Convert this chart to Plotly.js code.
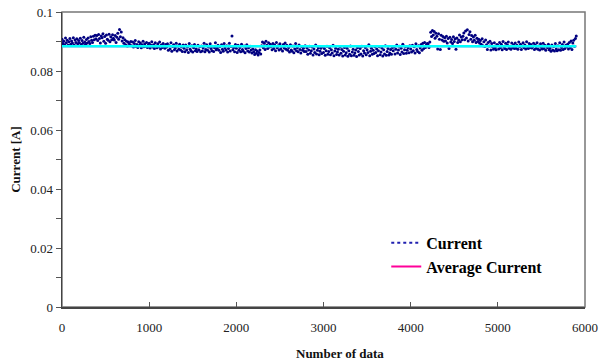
<!DOCTYPE html>
<html>
<head>
<meta charset="utf-8">
<script src="https://cdn.plot.ly/plotly-3.0.1.min.js"></script>
<style>html,body{margin:0;padding:0;background:#fff;}#chart{width:610px;height:363px;}</style>
</head>
<body>
<div id="chart"></div>
<script>
// Sample spacing along "Number of data"
const step = 10;
// Current readings [A] (one row = 200 data)
const currentValues = [
  0.0908,0.0893,0.0901,0.0889,0.0912,0.0896,0.0904,0.0887,0.0899,0.0910,0.0891,0.0902,0.0895,0.0913,0.0888,0.0905,0.0897,0.0909,0.0892,0.0903,
  0.0896,0.0911,0.0890,0.0903,0.0894,0.0914,0.0898,0.0891,0.0907,0.0895,0.0912,0.0900,0.0893,0.0916,0.0904,0.0897,0.0918,0.0906,0.0921,0.0909,
  0.0920,0.0903,0.0924,0.0910,0.0895,0.0919,0.0913,0.0926,0.0901,0.0917,0.0894,0.0922,0.0908,0.0904,0.0925,0.0899,0.0916,0.0906,0.0923,0.0911,
  0.0905,0.0920,0.0897,0.0914,0.0928,0.0908,0.0941,0.0916,0.0932,0.0902,0.0913,0.0894,0.0906,0.0889,0.0901,0.0885,0.0898,0.0893,0.0887,0.0900,
  0.0886,0.0898,0.0881,0.0893,0.0903,0.0883,0.0890,0.0880,0.0899,0.0887,0.0895,0.0879,0.0889,0.0901,0.0882,0.0892,0.0884,0.0897,0.0880,0.0888,
  0.0894,0.0878,0.0887,0.0899,0.0881,0.0889,0.0876,0.0896,0.0885,0.0879,0.0892,0.0882,0.0898,0.0875,0.0888,0.0880,0.0893,0.0883,0.0877,0.0890,
  0.0881,0.0892,0.0870,0.0886,0.0875,0.0896,0.0867,0.0883,0.0889,0.0872,0.0878,0.0894,0.0868,0.0885,0.0874,0.0891,0.0871,0.0882,0.0866,0.0888,
  0.0877,0.0865,0.0888,0.0871,0.0881,0.0863,0.0893,0.0874,0.0868,0.0886,0.0864,0.0879,0.0890,0.0869,0.0875,0.0866,0.0887,0.0872,0.0883,0.0865,
  0.0885,0.0868,0.0878,0.0894,0.0865,0.0873,0.0889,0.0870,0.0881,0.0864,0.0892,0.0876,0.0869,0.0884,0.0866,0.0879,0.0896,0.0872,0.0877,0.0887,
  0.0870,0.0882,0.0863,0.0889,0.0874,0.0867,0.0893,0.0878,0.0871,0.0886,0.0864,0.0876,0.0894,0.0868,0.0883,0.0919,0.0872,0.0880,0.0865,0.0890,
  0.0877,0.0863,0.0887,0.0870,0.0880,0.0865,0.0891,0.0873,0.0867,0.0885,0.0862,0.0876,0.0889,0.0868,0.0879,0.0864,0.0884,0.0871,0.0861,0.0875,
  0.0865,0.0856,0.0872,0.0860,0.0868,0.0854,0.0863,0.0871,0.0858,0.0886,0.0898,0.0879,0.0894,0.0873,0.0901,0.0887,0.0876,0.0896,0.0881,0.0891,
  0.0883,0.0872,0.0893,0.0876,0.0888,0.0869,0.0897,0.0879,0.0886,0.0871,0.0892,0.0875,0.0884,0.0868,0.0890,0.0878,0.0895,0.0874,0.0887,0.0870,
  0.0880,0.0864,0.0889,0.0871,0.0867,0.0885,0.0862,0.0875,0.0893,0.0869,0.0879,0.0865,0.0888,0.0873,0.0861,0.0883,0.0870,0.0877,0.0866,0.0886,
  0.0866,0.0878,0.0857,0.0871,0.0884,0.0860,0.0869,0.0881,0.0854,0.0875,0.0863,0.0888,0.0858,0.0870,0.0879,0.0855,0.0867,0.0877,0.0859,0.0883,
  0.0863,0.0876,0.0853,0.0869,0.0884,0.0857,0.0866,0.0879,0.0855,0.0872,0.0861,0.0887,0.0852,0.0868,0.0877,0.0856,0.0864,0.0874,0.0854,0.0881,
  0.0860,0.0873,0.0851,0.0867,0.0880,0.0854,0.0862,0.0877,0.0850,0.0869,0.0857,0.0885,0.0852,0.0864,0.0874,0.0853,0.0861,0.0871,0.0849,0.0879,
  0.0866,0.0854,0.0876,0.0858,0.0884,0.0851,0.0869,0.0861,0.0880,0.0855,0.0872,0.0863,0.0889,0.0852,0.0867,0.0877,0.0857,0.0870,0.0859,0.0882,
  0.0863,0.0875,0.0852,0.0869,0.0882,0.0855,0.0864,0.0878,0.0851,0.0872,0.0858,0.0886,0.0853,0.0866,0.0876,0.0854,0.0861,0.0873,0.0857,0.0880,
  0.0869,0.0881,0.0858,0.0874,0.0888,0.0861,0.0871,0.0884,0.0856,0.0877,0.0864,0.0891,0.0859,0.0872,0.0883,0.0860,0.0870,0.0879,0.0862,0.0886,
  0.0875,0.0864,0.0887,0.0869,0.0882,0.0861,0.0892,0.0873,0.0866,0.0886,0.0862,0.0878,0.0890,0.0870,0.0894,0.0876,0.0897,0.0880,0.0888,0.0893,
  0.0892,0.0880,0.0898,0.0931,0.0917,0.0937,0.0922,0.0934,0.0911,0.0928,0.0918,0.0875,0.0926,0.0908,0.0873,0.0921,0.0905,0.0917,0.0901,0.0913,
  0.0902,0.0918,0.0895,0.0910,0.0876,0.0914,0.0898,0.0907,0.0893,0.0916,0.0900,0.0909,0.0874,0.0912,0.0897,0.0905,0.0922,0.0899,0.0915,0.0906,
  0.0918,0.0929,0.0906,0.0936,0.0912,0.0940,0.0902,0.0924,0.0933,0.0908,0.0920,0.0899,0.0915,0.0904,0.0921,0.0897,0.0911,0.0900,0.0908,0.0895,
  0.0903,0.0891,0.0909,0.0886,0.0899,0.0883,0.0905,0.0889,0.0873,0.0897,0.0885,0.0901,0.0871,0.0893,0.0882,0.0874,0.0896,0.0879,0.0872,0.0890,
  0.0887,0.0875,0.0897,0.0879,0.0891,0.0872,0.0900,0.0882,0.0876,0.0894,0.0873,0.0888,0.0898,0.0877,0.0884,0.0874,0.0895,0.0880,0.0889,0.0876,
  0.0895,0.0877,0.0887,0.0874,0.0898,0.0882,0.0891,0.0873,0.0885,0.0896,0.0879,0.0888,0.0875,0.0899,0.0883,0.0876,0.0893,0.0880,0.0890,0.0878,
  0.0882,0.0894,0.0873,0.0888,0.0877,0.0896,0.0874,0.0885,0.0871,0.0892,0.0880,0.0875,0.0894,0.0876,0.0887,0.0870,0.0884,0.0879,0.0891,0.0872,
  0.0878,0.0867,0.0888,0.0871,0.0883,0.0868,0.0893,0.0875,0.0869,0.0886,0.0872,0.0896,0.0870,0.0880,0.0890,0.0873,0.0898,0.0876,0.0887,0.0882,
  0.0891,0.0875,0.0897,0.0880,0.0902,0.0873,0.0895,0.0904,0.0884,0.0910,0.0919
];
const dataIndex = currentValues.map((v, i) => i * step);
// Average current [A]
const averageCurrent = 0.0884;
const averageX = [0, dataIndex[dataIndex.length - 1]];
const averageY = [averageCurrent, averageCurrent];
// Tick labels
const yTickVals = [0, 0.02, 0.04, 0.06, 0.08, 0.1];
const yTickText = ["0", "0.02", "0.04", "0.06", "0.08", "0.1"];
const xTickVals = [0, 1000, 2000, 3000, 4000, 5000, 6000];
const xTickText = ["0", "1000", "2000", "3000", "4000", "5000", "6000"];

const serif = "Liberation Serif, Times New Roman, serif";
const tickFont = {family: serif, size: 13, color: "#222"};

const traces = [
  { // legend key for the current series
    x: [null], y: [null], name: "Current", type: "scatter", mode: "lines",
    line: {color: "#2020B0", width: 2, dash: "dot"}, hoverinfo: "skip"
  },
  {
    x: dataIndex, y: currentValues, name: "Current", type: "scatter", mode: "markers",
    marker: {color: "#000080", size: 3, line: {width: 0}}, showlegend: false
  },
  {
    x: averageX, y: averageY, name: "Average Current", type: "scatter", mode: "lines",
    line: {color: "#FF0099", width: 2}
  },
  {
    x: averageX, y: averageY, name: "Average Current", type: "scatter", mode: "lines",
    line: {color: "#00FFFF", width: 2.5}, showlegend: false
  }
];

const baseAnnotations = [
  {text: "Number of data", xref: "paper", yref: "paper", x: 0.5315, y: -0.156,
   xanchor: "center", yanchor: "middle", showarrow: false,
   font: {family: serif, size: 13, color: "#111", weight: "bold"}}
];

const layout = {
  width: 610, height: 363,
  margin: {l: 62, r: 25, t: 12, b: 56},
  paper_bgcolor: "#fff", plot_bgcolor: "#fff",
  showlegend: true,
  legend: {
    x: 0.62, y: 0.275, xanchor: "left", yanchor: "top",
    font: {family: serif, size: 16, color: "#000", weight: "bold"},
    bgcolor: "rgba(0,0,0,0)", tracegroupgap: 0, itemwidth: 30
  },
  xaxis: {
    range: [xTickVals[0], xTickVals[xTickVals.length - 1]],
    tickmode: "linear", tick0: xTickVals[0], dtick: xTickVals[1] - xTickVals[0],
    ticks: "inside", ticklen: 5, tickcolor: "#555", ticklabelstandoff: 8,
    showline: true, linecolor: "#444", linewidth: 1.5, mirror: false,
    showgrid: false, zeroline: false,
    tickfont: tickFont
  },
  yaxis: {
    range: [0, 0.1], tickvals: yTickVals, ticktext: yTickText,
    ticks: "outside", ticklen: 5, tickcolor: "#555",
    minor: {dtick: 0.01, ticks: "outside", ticklen: 5, tickcolor: "#555", showgrid: false},
    showline: true, linecolor: "#444", linewidth: 1.5, mirror: false,
    showgrid: false, zeroline: false,
    tickfont: tickFont,
    title: {text: "Current [A]", font: {family: serif, size: 13, color: "#111", weight: "bold"}, standoff: 6}
  },
  annotations: baseAnnotations.slice(),
  shapes: [
    {type: "rect", xref: "paper", yref: "paper", x0: 0, x1: 1, y0: 0, y1: 1,
     line: {color: "#777", width: 1.5}, layer: "below"}
  ]
};

Plotly.newPlot("chart", traces, layout, {staticPlot: true, displayModeBar: false}).then(function (gd) {
  // If the last x tick label got hidden at the plot edge, put it back as text at the same place.
  const lastVal = xTickVals[xTickVals.length - 1];
  const lastText = xTickText[xTickText.length - 1];
  const labels = Array.from(gd.querySelectorAll(".xtick text"));
  const ref = labels.find(function (e) { return e.textContent === xTickText[0]; });
  const shown = labels.some(function (e) {
    const r = e.getBoundingClientRect();
    return e.textContent === lastText && e.style.display !== "none" &&
      window.getComputedStyle(e).display !== "none" && r.width > 0;
  });
  if (!shown) {
    let yPaper = -0.075;
    if (ref) {
      const rr = ref.getBoundingClientRect();
      const cy = (rr.top + rr.bottom) / 2;
      const s = gd._fullLayout._size;
      yPaper = (s.t + s.h - cy) / s.h;
    }
    Plotly.relayout(gd, {annotations: baseAnnotations.concat([
      {text: lastText, xref: "x", x: lastVal, yref: "paper", y: yPaper,
       xanchor: "center", yanchor: "middle", showarrow: false, font: tickFont}
    ])});
  }
});
</script>
</body>
</html>
